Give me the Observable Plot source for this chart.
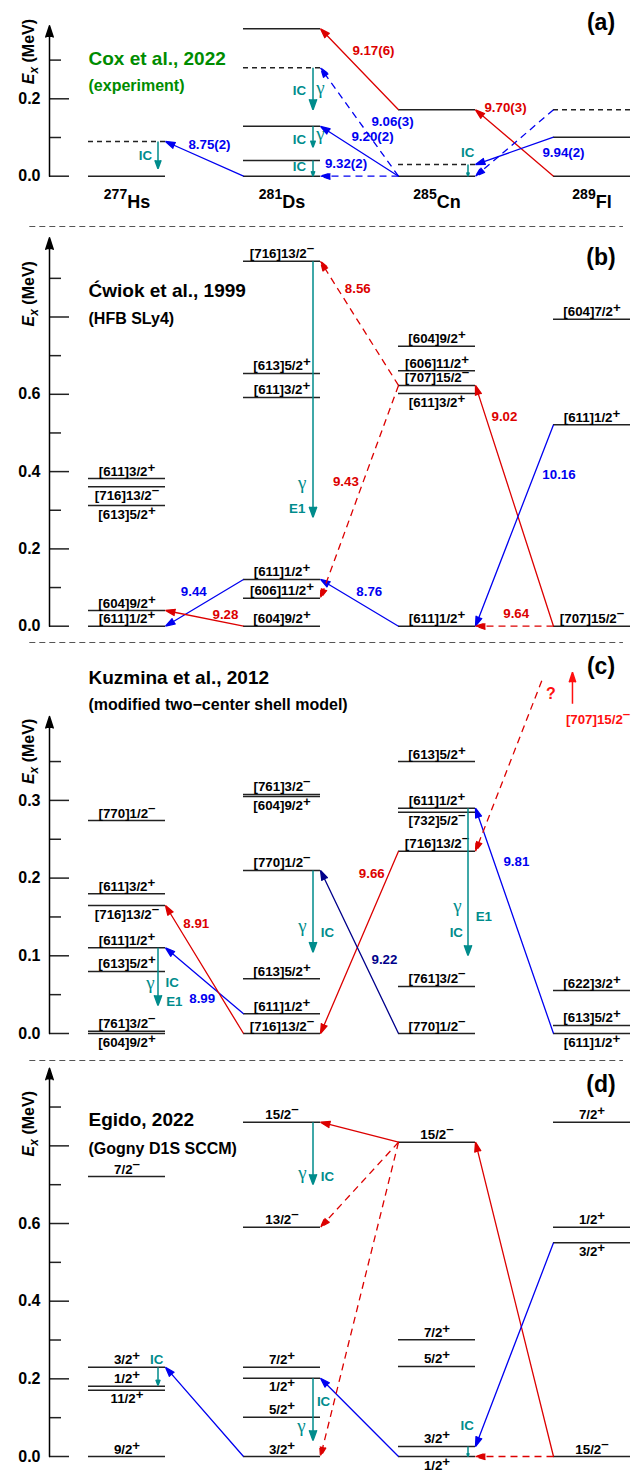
<!DOCTYPE html>
<html><head><meta charset="utf-8">
<script src="https://cdn.jsdelivr.net/npm/d3@7"></script>
<script src="https://cdn.jsdelivr.net/npm/@observablehq/plot@0.6"></script>
<style>
body{margin:0;background:#fff;}
#chart{width:638px;}
#chart svg{display:block;}
</style></head><body><div id="chart"></div>
<script>
// ================= DATA =================
const nucleiMass = ["277", "281", "285", "289"];
const nucleiSym = ["Hs", "Ds", "Cn", "Fl"];
const titles = ["Cox et al., 2022", "Ćwiok et al., 1999", "Kuzmina et al., 2012", "Egido, 2022"];
const subtitles = ["(experiment)", "(HFB SLy4)", "(modified two−center shell model)", "(Gogny D1S SCCM)"];
const tags = ["(a)", "(b)", "(c)", "(d)"];
const yAxisTitle = "*{E}_*{x} (MeV)";

const majorTicks = [[0, 0.2], [0, 0.2, 0.4, 0.6, 0.8], [0, 0.1, 0.2, 0.3], [0, 0.2, 0.4, 0.6, 0.8]];
const minorTicks = [[0.1, 0.3], [0.1, 0.3, 0.5, 0.7, 0.9], [0.05, 0.15, 0.25, 0.35], [0.1, 0.3, 0.5, 0.7, 0.9]];
const tickLabels = [[0, 0.2], [0, 0.2, 0.4, 0.6], [0, 0.1, 0.2, 0.3], [0, 0.2, 0.4, 0.6]];
const axisTopE = [0.389, 1.005, 0.408, 1.0];

// levels: nucleus, energy (MeV), label, label side (a = above, b = below), dashed
const levelsA = [
  {n: "Hs", e: 0}, {n: "Hs", e: 0.0897, dash: true},
  {n: "Ds", e: 0}, {n: "Ds", e: 0.0406}, {n: "Ds", e: 0.129}, {n: "Ds", e: 0.28, dash: true}, {n: "Ds", e: 0.381},
  {n: "Cn", e: 0}, {n: "Cn", e: 0.03, dash: true}, {n: "Cn", e: 0.1716},
  {n: "Fl", e: 0}, {n: "Fl", e: 0.1008}, {n: "Fl", e: 0.1716, dash: true}
];
const levelsB = [
  {n: "Hs", e: 0.382, lab: "[611]3/2+", pos: "a"},
  {n: "Hs", e: 0.361, lab: "[716]13/2−", pos: "b"},
  {n: "Hs", e: 0.312, lab: "[613]5/2+", pos: "b"},
  {n: "Hs", e: 0.0406, lab: "[604]9/2+", pos: "a"},
  {n: "Hs", e: 0, lab: "[611]1/2+", pos: "a"},
  {n: "Ds", e: 0.944, lab: "[716]13/2−", pos: "a"},
  {n: "Ds", e: 0.654, lab: "[613]5/2+", pos: "a"},
  {n: "Ds", e: 0.592, lab: "[611]3/2+", pos: "a"},
  {n: "Ds", e: 0.121, lab: "[611]1/2+", pos: "a"},
  {n: "Ds", e: 0.072, lab: "[606]11/2+", pos: "a"},
  {n: "Ds", e: 0, lab: "[604]9/2+", pos: "a"},
  {n: "Cn", e: 0.724, lab: "[604]9/2+", pos: "a"},
  {n: "Cn", e: 0.661, lab: "[606]11/2+", pos: "a"},
  {n: "Cn", e: 0.623, lab: "[707]15/2−", pos: "a"},
  {n: "Cn", e: 0.602, lab: "[611]3/2+", pos: "b"},
  {n: "Cn", e: 0, lab: "[611]1/2+", pos: "a"},
  {n: "Fl", e: 0.794, lab: "[604]7/2+", pos: "a"},
  {n: "Fl", e: 0.521, lab: "[611]1/2+", pos: "a"},
  {n: "Fl", e: 0, lab: "[707]15/2−", pos: "a"}
];
const levelsC = [
  {n: "Hs", e: 0.2741, lab: "[770]1/2−", pos: "a"},
  {n: "Hs", e: 0.1798, lab: "[611]3/2+", pos: "a"},
  {n: "Hs", e: 0.1647, lab: "[716]13/2−", pos: "b"},
  {n: "Hs", e: 0.1103, lab: "[611]1/2+", pos: "a"},
  {n: "Hs", e: 0.0798, lab: "[613]5/2+", pos: "a"},
  {n: "Hs", e: 0.003, lab: "[761]3/2−", pos: "a"},
  {n: "Hs", e: 0, lab: "[604]9/2+", pos: "b"},
  {n: "Ds", e: 0.3076, lab: "[761]3/2−", pos: "a"},
  {n: "Ds", e: 0.305, lab: "[604]9/2+", pos: "b"},
  {n: "Ds", e: 0.2098, lab: "[770]1/2−", pos: "a"},
  {n: "Ds", e: 0.0704, lab: "[613]5/2+", pos: "a"},
  {n: "Ds", e: 0.0254, lab: "[611]1/2+", pos: "a"},
  {n: "Ds", e: 0, lab: "[716]13/2−", pos: "a"},
  {n: "Cn", e: 0.35, lab: "[613]5/2+", pos: "a"},
  {n: "Cn", e: 0.29, lab: "[611]1/2+", pos: "a"},
  {n: "Cn", e: 0.2848, lab: "[732]5/2−", pos: "b"},
  {n: "Cn", e: 0.2346, lab: "[716]13/2−", pos: "a"},
  {n: "Cn", e: 0.0605, lab: "[761]3/2−", pos: "a"},
  {n: "Cn", e: 0, lab: "[770]1/2−", pos: "a"},
  {n: "Fl", e: 0.0553, lab: "[622]3/2+", pos: "a"},
  {n: "Fl", e: 0.0103, lab: "[613]5/2+", pos: "a"},
  {n: "Fl", e: 0, lab: "[611]1/2+", pos: "b"}
];
const levelsD = [
  {n: "Hs", e: 0.721, lab: "7/2−", pos: "a"},
  {n: "Hs", e: 0.23, lab: "3/2+", pos: "a"},
  {n: "Hs", e: 0.181, lab: "1/2+", pos: "a"},
  {n: "Hs", e: 0.1707, lab: "11/2+", pos: "b"},
  {n: "Hs", e: 0, lab: "9/2+", pos: "a"},
  {n: "Ds", e: 0.861, lab: "15/2−", pos: "a"},
  {n: "Ds", e: 0.5905, lab: "13/2−", pos: "a"},
  {n: "Ds", e: 0.23, lab: "7/2+", pos: "a"},
  {n: "Ds", e: 0.2016, lab: "1/2+", pos: "b"},
  {n: "Ds", e: 0.1012, lab: "5/2+", pos: "a"},
  {n: "Ds", e: 0, lab: "3/2+", pos: "a"},
  {n: "Cn", e: 0.8094, lab: "15/2−", pos: "a"},
  {n: "Cn", e: 0.3005, lab: "7/2+", pos: "a"},
  {n: "Cn", e: 0.2318, lab: "5/2+", pos: "a"},
  {n: "Cn", e: 0.0258, lab: "3/2+", pos: "a"},
  {n: "Cn", e: 0, lab: "1/2+", pos: "b"},
  {n: "Fl", e: 0.861, lab: "7/2+", pos: "a"},
  {n: "Fl", e: 0.5905, lab: "1/2+", pos: "a"},
  {n: "Fl", e: 0.5503, lab: "3/2+", pos: "b"},
  {n: "Fl", e: 0, lab: "15/2−", pos: "a"}
];

// alpha transitions: parent nucleus/energy -> daughter nucleus/energy, kind (b blue, r red, n navy), dashed
const transA = [
  {f: "Ds", fe: 0, t: "Hs", te: 0.0897, k: "b"},
  {f: "Cn", fe: 0.1716, t: "Ds", te: 0.381, k: "r"},
  {f: "Cn", fe: 0, t: "Ds", te: 0.28, k: "b", dash: true},
  {f: "Cn", fe: 0, t: "Ds", te: 0.129, k: "b"},
  {f: "Cn", fe: 0, t: "Ds", te: 0, k: "b", dash: true},
  {f: "Fl", fe: 0, t: "Cn", te: 0.1716, k: "r"},
  {f: "Fl", fe: 0.1008, t: "Cn", te: 0.03, k: "b"},
  {f: "Fl", fe: 0.1716, t: "Cn", te: 0, k: "b", dash: true}
];
const transB = [
  {f: "Ds", fe: 0.121, t: "Hs", te: 0, k: "b"},
  {f: "Ds", fe: 0, t: "Hs", te: 0.0406, k: "r"},
  {f: "Cn", fe: 0, t: "Ds", te: 0.121, k: "b"},
  {f: "Cn", fe: 0.623, t: "Ds", te: 0.944, k: "r", dash: true},
  {f: "Cn", fe: 0.623, t: "Ds", te: 0.072, k: "r", dash: true},
  {f: "Fl", fe: 0, t: "Cn", te: 0.623, k: "r"},
  {f: "Fl", fe: 0.521, t: "Cn", te: 0, k: "b"},
  {f: "Fl", fe: 0, t: "Cn", te: 0, k: "r", dash: true}
];
const transC = [
  {f: "Ds", fe: 0.0254, t: "Hs", te: 0.1103, k: "b"},
  {f: "Ds", fe: 0, t: "Hs", te: 0.1647, k: "r"},
  {f: "Cn", fe: 0.2346, t: "Ds", te: 0, k: "r"},
  {f: "Cn", fe: 0, t: "Ds", te: 0.2098, k: "n"},
  {f: "Fl", fe: 0, t: "Cn", te: 0.29, k: "b"}
];
const transD = [
  {f: "Ds", fe: 0, t: "Hs", te: 0.23, k: "b"},
  {f: "Cn", fe: 0, t: "Ds", te: 0.2016, k: "b"},
  {f: "Cn", fe: 0.8094, t: "Ds", te: 0.861, k: "r"},
  {f: "Cn", fe: 0.8094, t: "Ds", te: 0.5905, k: "r", dash: true},
  {f: "Cn", fe: 0.8094, t: "Ds", te: 0, k: "r", dash: true},
  {f: "Fl", fe: 0, t: "Cn", te: 0.8094, k: "r"},
  {f: "Fl", fe: 0.5503, t: "Cn", te: 0.0258, k: "b"},
  {f: "Fl", fe: 0, t: "Cn", te: 0, k: "r", dash: true}
];
// unknown [707]15/2- state in (c): dashed feed from above, and pointer arrow
const unknownFeedC = [{x1: 2.676, e1: 0.454, t: "Cn", te: 0.2346}];
const unknownArrowC = [{x: 2.874, e1: 0.4243, e2: 0.465}];
const unknownLabelC = [{x: 3.039, e: 0.3986, t: "[707]15/2−"}];
const questionC = [{x: 2.735, e: 0.431, t: "?"}];

// Q-alpha labels (anchor in column units / MeV)
const qA = [
  {x: 0.532, e: 0.069, t: "8.75(2)", k: "b"},
  {x: 1.590, e: 0.312, t: "9.17(6)", k: "r"},
  {x: 1.713, e: 0.131, t: "9.06(3)", k: "b"},
  {x: 1.584, e: 0.0897, t: "9.20(2)", k: "b"},
  {x: 1.413, e: 0.0217, t: "9.32(2)", k: "b"},
  {x: 2.442, e: 0.167, t: "9.70(3)", k: "r"},
  {x: 2.816, e: 0.049, t: "9.94(2)", k: "b"}
];
const qB = [
  {x: 0.431, e: 0.079, t: "9.44", k: "b"},
  {x: 0.635, e: 0.019, t: "9.28", k: "r"},
  {x: 1.563, e: 0.079, t: "8.76", k: "b"},
  {x: 1.489, e: 0.8626, t: "8.56", k: "r"},
  {x: 1.412, e: 0.3615, t: "9.43", k: "r"},
  {x: 2.435, e: 0.532, t: "9.02", k: "r"},
  {x: 2.787, e: 0.381, t: "10.16", k: "b"},
  {x: 2.511, e: 0.0207, t: "9.64", k: "r"}
];
const qC = [
  {x: 0.447, e: 0.136, t: "8.91", k: "r"},
  {x: 0.485, e: 0.039, t: "8.99", k: "b"},
  {x: 1.579, e: 0.2004, t: "9.66", k: "r"},
  {x: 1.661, e: 0.0897, t: "9.22", k: "n"},
  {x: 2.512, e: 0.215, t: "9.81", k: "b"}
];
const qD = [];

// internal transitions (gamma / IC)
const gamA = [
  {n: "Hs", e1: 0.0897, e2: 0.019}, {n: "Ds", e1: 0.28, e2: 0.172},
  {n: "Ds", e1: 0.129, e2: 0.075}, {n: "Ds", e1: 0.0406, e2: 0}, {n: "Cn", e1: 0.03, e2: 0}
];
const gamB = [{n: "Ds", e1: 0.944, e2: 0.282}];
const gamC = [{n: "Hs", e1: 0.1103, e2: 0.036}, {n: "Ds", e1: 0.2098, e2: 0.1046}, {n: "Cn", e1: 0.29, e2: 0.1004}];
const gamD = [
  {n: "Hs", e1: 0.23, e2: 0.183}, {n: "Ds", e1: 0.861, e2: 0.7005},
  {n: "Ds", e1: 0.2016, e2: 0.041}, {n: "Cn", e1: 0.0258, e2: 0}
];
const gLabA = [
  {x: 0.119, e: 0.0406, t: "IC"}, {x: 1.113, e: 0.2103, t: "IC"}, {x: 1.248, e: 0.212, t: "γ"},
  {x: 1.113, e: 0.0837, t: "IC"}, {x: 1.248, e: 0.093, t: "γ"}, {x: 1.113, e: 0.0129, t: "IC"},
  {x: 2.198, e: 0.049, t: "IC"}
];
const gLabB = [{x: 1.131, e: 0.3545, t: "γ"}, {x: 1.098, e: 0.2924, t: "E1"}];
const gLabC = [
  {x: 0.152, e: 0.057, t: "γ"}, {x: 0.292, e: 0.0596, t: "IC"}, {x: 0.305, e: 0.0351, t: "E1"},
  {x: 1.132, e: 0.1304, t: "γ"}, {x: 1.2935, e: 0.124, t: "IC"},
  {x: 2.132, e: 0.1561, t: "γ"}, {x: 2.1245, e: 0.124, t: "IC"}, {x: 2.302, e: 0.1445, t: "E1"}
];
const gLabD = [
  {x: 0.192, e: 0.2387, t: "IC"}, {x: 1.132, e: 0.7141, t: "γ"}, {x: 1.2935, e: 0.709, t: "IC"},
  {x: 1.268, e: 0.1295, t: "IC"}, {x: 1.126, e: 0.0626, t: "γ"}, {x: 2.195, e: 0.0695, t: "IC"}
];

// ================= LAYOUT / STYLE =================
const W = 638, X0 = 126.5, DX = 155;          // px of first column centre, column spacing
const HW = 38.5 / DX;                          // half width of a level line (column units)
const AXIS_X = -0.5, MAJ = 20 / DX, MIN = 12 / DX;
const TICKLAB_X = -0.558, YLAB_X = -0.632, TITLE_X = -HW, TAG_X = 3.058;
const SEP_X1 = -0.627, SEP_X2 = 3.203;
const GX = 0.2;                                // x offset of gamma arrows within a column
const titleE = [0.2886, 0.853, 0.450, 0.85];
const subE = [0.2196, 0.7806, 0.4166, 0.7795];
const tagE = [0.378, 0.9358, 0.4633, 0.938];
const yLabE = [0.322, 0.86, 0.363, 0.857];
const nucE = -0.081;
const layouts = [
  {H: 222, zero: 175.7, k: 387, sep: false},
  {H: 416, zero: 403.7, k: 386.5, sep: true},
  {H: 418, zero: 395, k: 777, sep: true},
  {H: 416, zero: 400, k: 388.3, sep: true}
];
const KC = {b: "#0000f0", r: "#dc0000", n: "#00008b", R: "#ff1010"};
const TEAL = "#008c8c", GREEN = "#008c00", LEVEL = "#222";
const FONT = '"Liberation Sans", Arial, Helvetica, sans-serif';
const SERIF = '"Liberation Serif", "Times New Roman", serif';
const LS = 13.3;
const col = n => nucleiSym.indexOf(n);
const supLab = s => s.replace(/([+−])$/, "^{$1}");

function rich(svg) {
  svg.querySelectorAll("text").forEach(t => {
    const s = t.textContent;
    if (!/(\^|_|\*)\{/.test(s)) return;
    const re = /(\^|_\*|_|\*)\{([^}]*)\}/g;
    const segs = []; let last = 0, m;
    while ((m = re.exec(s))) {
      if (m.index > last) segs.push({t: s.slice(last, m.index), shift: 0});
      const k = m[1], c = m[2];
      if (k === "^") {
        if (/^\d+$/.test(c)) segs.push({t: c, shift: 9, size: "14px"});
        else if (c === "−") segs.push({t: "–", shift: 6});
        else segs.push({t: c, shift: 4});
      } else if (k === "*") segs.push({t: c, shift: 0, italic: true});
      else if (k === "_*") segs.push({t: c, shift: -4, italic: true, size: "12px"});
      else segs.push({t: c, shift: -4, size: "12px"});
      last = re.lastIndex;
    }
    if (last < s.length) segs.push({t: s.slice(last), shift: 0});
    t.textContent = "";
    let cur = 0;
    for (const g of segs) {
      const ts = document.createElementNS("http://www.w3.org/2000/svg", "tspan");
      const d = cur - g.shift;
      if (d) ts.setAttribute("dy", d + "px");
      if (g.size) ts.setAttribute("font-size", g.size);
      if (g.italic) ts.setAttribute("font-style", "italic");
      ts.textContent = g.t;
      t.appendChild(ts);
      cur = g.shift;
    }
  });
}

function arrowOpts(extra) {
  return Object.assign({strokeWidth: 1.3, headLength: 12, headAngle: 36, strokeLinecap: "butt"}, extra);
}

function panel(i, levels, trans, q, gam, gLab, extra) {
  const L = layouts[i];
  const yTop = L.zero / L.k, yBot = -(L.H - L.zero) / L.k;
  const marks = [];
  if (L.sep) marks.push(Plot.ruleY([yTop - 4 / L.k], {y: d => d, x1: () => SEP_X1, x2: () => SEP_X2, stroke: "#555", strokeWidth: 1, strokeDasharray: "6,4"}));
  // axis
  marks.push(Plot.ruleY(majorTicks[i], {y: d => d, x1: () => AXIS_X, x2: () => AXIS_X + MAJ, stroke: LEVEL, strokeWidth: 1.5}));
  marks.push(Plot.ruleY(minorTicks[i], {y: d => d, x1: () => AXIS_X, x2: () => AXIS_X + MIN, stroke: LEVEL, strokeWidth: 1.5}));
  marks.push(Plot.arrow([axisTopE[i]], {x1: () => AXIS_X, x2: () => AXIS_X, y1: () => 0, y2: d => d, stroke: "#000", fill: "#000", strokeWidth: 1.5, headLength: 12, headAngle: 36}));
  marks.push(Plot.text(tickLabels[i], {x: () => TICKLAB_X, y: d => d, text: d => d3.format(".1f")(d), textAnchor: "end", fontSize: 16, fontWeight: "bold"}));
  marks.push(Plot.text([yAxisTitle], {x: () => YLAB_X, y: () => yLabE[i], text: d => d, rotate: -90, fontSize: 16, fontWeight: "bold"}));
  // titles
  marks.push(Plot.text([titles[i]], {x: () => TITLE_X, y: () => titleE[i], text: d => d, textAnchor: "start", lineAnchor: "bottom", fontSize: 19, fontWeight: "bold", fill: i === 0 ? GREEN : "#000"}));
  marks.push(Plot.text([subtitles[i]], {x: () => TITLE_X, y: () => subE[i], text: d => d, textAnchor: "start", lineAnchor: "bottom", fontSize: 16, fontWeight: "bold", fill: i === 0 ? GREEN : "#000"}));
  marks.push(Plot.text([tags[i]], {x: () => TAG_X, y: () => tagE[i], text: d => d, lineAnchor: "bottom", fontSize: 23, fontWeight: "bold"}));
  // levels
  marks.push(Plot.ruleY(levels.filter(d => !d.dash), {y: "e", x1: d => col(d.n) - HW, x2: d => col(d.n) + HW, stroke: LEVEL, strokeWidth: 1.5}));
  marks.push(Plot.ruleY(levels.filter(d => d.dash), {y: "e", x1: d => col(d.n) - HW, x2: d => col(d.n) + HW, stroke: LEVEL, strokeWidth: 1.5, strokeDasharray: "5,4"}));
  marks.push(Plot.text(levels.filter(d => d.lab && d.pos === "a"), {x: d => col(d.n), y: "e", text: d => supLab(d.lab), lineAnchor: "bottom", dy: -3, fontSize: LS, fontWeight: "bold"}));
  marks.push(Plot.text(levels.filter(d => d.lab && d.pos === "b"), {x: d => col(d.n), y: "e", text: d => supLab(d.lab), lineAnchor: "bottom", dy: 13, fontSize: LS, fontWeight: "bold"}));
  // internal transitions
  marks.push(Plot.arrow(gam, arrowOpts({x1: d => col(d.n) + GX, x2: d => col(d.n) + GX, y1: "e1", y2: "e2", stroke: TEAL, fill: TEAL, strokeWidth: 1.5, headLength: 11, headAngle: 40})));
  marks.push(Plot.text(gLab.filter(d => d.t !== "γ"), {x: "x", y: "e", text: "t", lineAnchor: "bottom", fontSize: LS, fontWeight: "bold", fill: TEAL}));
  marks.push(Plot.text(gLab.filter(d => d.t === "γ"), {x: "x", y: "e", text: "t", lineAnchor: "bottom", fontSize: 19, fontFamily: SERIF, fill: TEAL}));
  // alpha transitions
  const tr = {x1: d => col(d.f) - HW, y1: "fe", x2: d => col(d.t) + HW, y2: "te", stroke: d => KC[d.k], fill: d => KC[d.k]};
  marks.push(Plot.arrow(trans.filter(d => !d.dash), arrowOpts(tr)));
  marks.push(Plot.arrow(trans.filter(d => d.dash), arrowOpts(Object.assign({strokeDasharray: "7,5"}, tr))));
  marks.push(Plot.text(q, {x: "x", y: "e", text: "t", lineAnchor: "bottom", fontSize: LS, fontWeight: "bold", fill: d => KC[d.k]}));
  if (extra) marks.push(...extra);
  const svg = Plot.plot({
    width: W, height: L.H, marginTop: 0, marginBottom: 0, marginLeft: 0, marginRight: 0,
    x: {domain: [-X0 / DX, (W - X0) / DX], axis: null},
    y: {domain: [yBot, yTop], axis: null},
    color: {type: "identity"},
    style: {fontFamily: FONT, background: "#fff", color: "#000", overflow: "visible"},
    marks
  });
  rich(svg);
  return svg;
}

const extraA = [
  Plot.text(nucleiSym, {x: (d, i) => i, y: () => nucE, text: (d, i) => `^{${nucleiMass[i]}}${d}`, lineAnchor: "bottom", fontSize: 18, fontWeight: "bold"})
];
const extraC = [
  Plot.arrow(unknownFeedC, arrowOpts({x1: "x1", y1: "e1", x2: d => col(d.t) + HW, y2: "te", stroke: KC.r, fill: KC.r, strokeDasharray: "7,5"})),
  Plot.arrow(unknownArrowC, arrowOpts({x1: "x", x2: "x", y1: "e1", y2: "e2", stroke: KC.R, fill: KC.R, strokeWidth: 1.5})),
  Plot.text(unknownLabelC, {x: "x", y: "e", text: d => supLab(d.t), lineAnchor: "bottom", fontSize: LS, fontWeight: "bold", fill: KC.R}),
  Plot.text(questionC, {x: "x", y: "e", text: "t", lineAnchor: "bottom", fontSize: 16, fontWeight: "bold", fill: KC.R})
];

const root = document.getElementById("chart");
root.appendChild(panel(0, levelsA, transA, qA, gamA, gLabA, extraA));
root.appendChild(panel(1, levelsB, transB, qB, gamB, gLabB));
root.appendChild(panel(2, levelsC, transC, qC, gamC, gLabC, extraC));
root.appendChild(panel(3, levelsD, transD, qD, gamD, gLabD));
</script>
</body></html>
